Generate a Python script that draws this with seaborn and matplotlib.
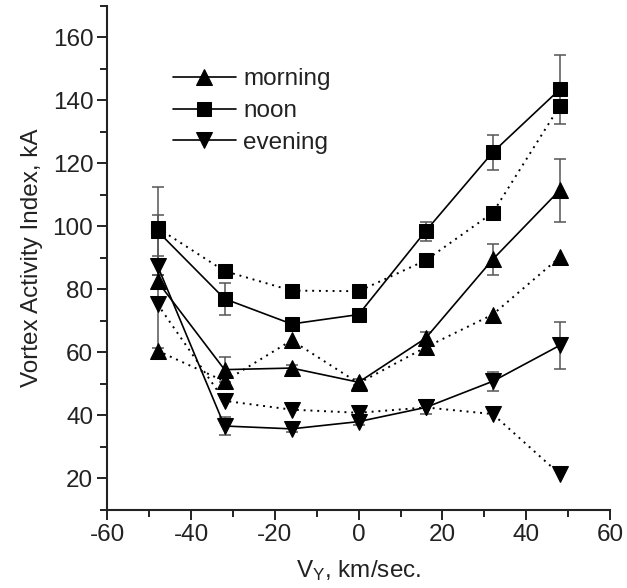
import matplotlib
matplotlib.use("Agg")
import matplotlib.pyplot as plt
from matplotlib.ticker import MultipleLocator
import seaborn as sns
import pandas as pd

vy = [-48, -32, -16, 0, 16, 32, 48]

morning = [82.5, 54.5, 55, 50.5, 64.5, 89.5, 111.5]
morning_err = [21, 4, 1, 1, 2, 5, 10]
noon = [98.5, 77, 69, 72, 98.5, 123.5, 143.5]
noon_err = [14, 5, 1, 1, 3, 5.5, 11]
evening = [87.5, 36.6, 35.7, 38, 42.5, 50.8, 62.2]
evening_err = [3, 3, 1, 1, 2, 3, 7.5]

morning_dot = [60.5, 50.8, 63.8, 50.2, 61.6, 72, 90.2]
noon_dot = [99.5, 85.8, 79.6, 79.4, 89.2, 104.3, 138.2]
evening_dot = [75.3, 44.6, 41.8, 40.8, 42.5, 40.4, 21.3]

labels = ["morning", "noon", "evening"]
markers = ["^", "s", "v"]

sns.set_style("ticks")
plt.rcParams["font.family"] = ["Liberation Sans", "DejaVu Sans"]
plt.rcParams["mathtext.default"] = "regular"
plt.rcParams["axes.unicode_minus"] = False

fig = plt.figure(figsize=(6.27, 5.88), dpi=100)
ax = fig.add_axes([0.171, 0.133, 0.802, 0.857])

solid = [morning, noon, evening]
errs = [morning_err, noon_err, evening_err]
dotted = [morning_dot, noon_dot, evening_dot]
msizes = [11, 9.5, 11]

handles = []
for lab, m, ys, es, yd, ms in zip(labels, markers, solid, errs, dotted, msizes):
    ax.errorbar(vy, ys, yerr=es, fmt="none", ecolor="#555555", elinewidth=1.1,
                capsize=4.5, capthick=1.1, zorder=1.5)
    df = pd.DataFrame({"x": vy, "y": ys})
    sns.lineplot(data=df, x="x", y="y", ax=ax, color="black", linewidth=1.2,
                 marker=m, markersize=ms, markeredgecolor="black",
                 markerfacecolor="black", label=lab, zorder=3)
    handles.append(ax.lines[-1])
    dfd = pd.DataFrame({"x": vy, "y": yd})
    sns.lineplot(data=dfd, x="x", y="y", ax=ax, color="black", linewidth=1.4,
                 linestyle=(0, (1, 2.5)), marker=m, markersize=ms,
                 markeredgecolor="black", markerfacecolor="black", zorder=3)

ax.set_xlim(-60, 60)
ax.set_ylim(10, 170)
ax.xaxis.set_major_locator(MultipleLocator(20))
ax.xaxis.set_minor_locator(MultipleLocator(10))
ax.set_yticks([20, 40, 60, 80, 100, 120, 140, 160])
ax.yaxis.set_minor_locator(MultipleLocator(10))

for s in ["top", "right"]:
    ax.spines[s].set_visible(False)
for s in ["left", "bottom"]:
    ax.spines[s].set_linewidth(1.5)
    ax.spines[s].set_color("#222222")

fs = 17.5
ax.tick_params(axis="both", which="major", direction="out", length=7, width=1.4,
               labelsize=fs, colors="#222222", pad=3)
ax.tick_params(axis="both", which="minor", direction="out", length=5, width=1.4,
               colors="#222222")

ax.set_xlabel(r"V$_{Y}$, km/sec.", fontsize=fs, color="#222222", labelpad=9)
ax.set_ylabel("Vortex Activity Index, kA", fontsize=fs, color="#222222", labelpad=7)

leg = ax.legend(handles=handles, labels=labels, loc="upper left",
                bbox_to_anchor=(0.13, 0.876), frameon=False, fontsize=fs,
                handlelength=2.6, handletextpad=0.3, labelspacing=0.4,
                borderpad=0, borderaxespad=0)
for t in leg.get_texts():
    t.set_color("#222222")

fig.savefig("out.png", dpi=100)
